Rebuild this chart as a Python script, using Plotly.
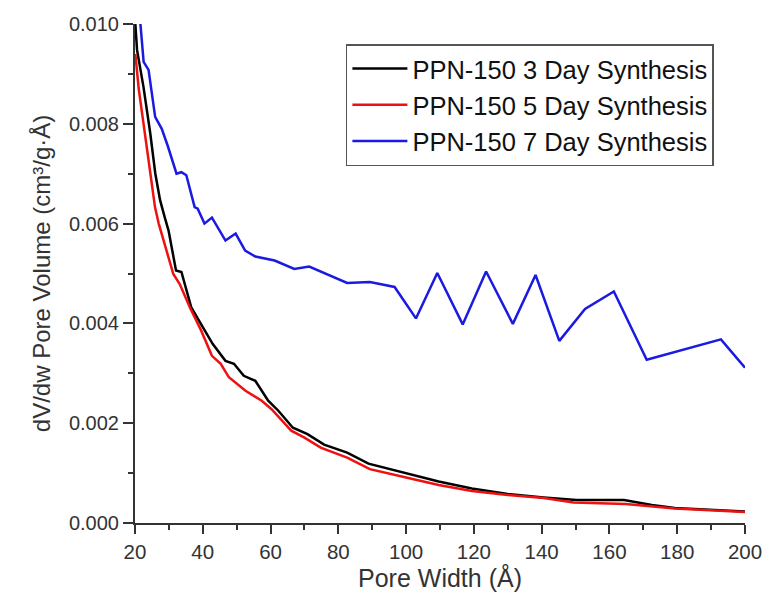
import plotly.graph_objects as go

# Pore width (Å) and dV/dw pore volume (cm³/g·Å)
x_3day = [20.1, 20.6, 22.5, 24.5, 26.0, 27.4, 28.8, 29.9, 32.1, 33.7, 36.6, 40.0, 42.9, 46.7, 49.2,
          52.1, 55.5, 59.3, 62.3, 66.6, 70.9, 75.8, 82.6, 88.9, 99.1, 109.6, 119.4, 130.0,
          140.6, 150.3, 164.3, 172.5, 179.3, 200]
y_3day = [0.0100, 0.00948, 0.00874, 0.00781, 0.00700, 0.00647, 0.00612, 0.00586, 0.00506, 0.00503,
          0.00432, 0.00392, 0.00359, 0.00325, 0.00319, 0.00295, 0.00285, 0.00245, 0.00225,
          0.00191, 0.00178, 0.00157, 0.00141, 0.00119, 0.00101, 0.00083, 0.00069, 0.00058,
          0.00051, 0.00046, 0.00046, 0.00036, 0.00030, 0.00023]

x_5day = [20.1, 21.1, 24.0, 25.9, 27.0, 28.4, 31.3, 33.2, 36.2, 39.5, 42.7, 45.3, 47.7, 52.6, 57.4,
          60.3, 66.1, 70.0, 74.8, 82.6, 89.3, 100.0, 109.6, 119.4, 130.0, 140.6, 149.4, 164.8,
          179.3, 200]
y_5day = [0.00940, 0.00870, 0.00727, 0.00633, 0.00600, 0.00566, 0.00499, 0.00479, 0.00432, 0.00386,
          0.00335, 0.00319, 0.00292, 0.00265, 0.00245, 0.00228, 0.00185, 0.00171, 0.00151,
          0.00131, 0.00108, 0.00091, 0.00076, 0.00064, 0.00056, 0.00050, 0.00041, 0.00038,
          0.00029, 0.00022]

x_7day = [21.6, 22.55, 24.0, 25.95, 27.9, 29.7, 32.25, 33.7, 35.15, 37.6, 38.5, 40.5, 42.7, 46.7,
          49.7, 52.5, 55.5, 61.2, 67.0, 71.4, 82.6, 89.3, 96.6, 102.9, 109.2, 116.7, 123.6,
          131.5, 138.2, 145.2, 152.8, 161.3, 171.0, 192.9, 200]
y_7day = [0.0100, 0.00924, 0.00908, 0.00814, 0.00790, 0.00755, 0.00700, 0.00703, 0.00697,
          0.00633, 0.00630, 0.00600, 0.00612, 0.00566, 0.00580, 0.00546, 0.00534, 0.00526,
          0.00509, 0.00514, 0.00481, 0.00483, 0.00473, 0.00410, 0.00501, 0.00398, 0.00504,
          0.00399, 0.00497, 0.00365, 0.00429, 0.00464, 0.00327, 0.00368, 0.00311]

series_names = ["PPN-150 3 Day Synthesis", "PPN-150 5 Day Synthesis", "PPN-150 7 Day Synthesis"]
series_colors = ["#000000", "#ee1111", "#1a1ae0"]

x_ticks = [20, 40, 60, 80, 100, 120, 140, 160, 180, 200]
y_ticks = [0.000, 0.002, 0.004, 0.006, 0.008, 0.010]

fig = go.Figure()
for i, (xs, ys) in enumerate([(x_3day, y_3day), (x_5day, y_5day), (x_7day, y_7day)]):
    fig.add_trace(go.Scatter(x=xs, y=ys, mode="lines", name=series_names[i],
                             line=dict(color=series_colors[i], width=2.5)))

font_family = "Liberation Sans, Arial, sans-serif"
axis_col = "#333333"
fig.update_layout(
    width=774, height=600,
    margin=dict(l=135, r=20, t=24, b=77),
    paper_bgcolor="white", plot_bgcolor="white",
    font=dict(family=font_family, size=20, color="#333333"),
    showlegend=True,
    legend=dict(x=(349 - 135) / 619, y=(523 - 44) / 499, xanchor="left", yanchor="top",
                bordercolor="#555555", borderwidth=1.5, bgcolor="white",
                font=dict(size=25.5, color="#111111"),
                itemwidth=55),
    xaxis=dict(range=[20, 200], tickvals=x_ticks, showgrid=False, zeroline=False,
               showline=True, linecolor=axis_col, linewidth=2,
               ticks="outside", ticklen=9, tickwidth=2, tickcolor=axis_col,
               minor=dict(dtick=10, ticks="outside", ticklen=5, tickwidth=2, tickcolor=axis_col),
               tickfont=dict(size=20.5),
               title=dict(text="Pore Width (Å)", font=dict(size=25), standoff=7)),
    yaxis=dict(range=[0, 0.010], tickvals=y_ticks, tickformat=".3f", showgrid=False, zeroline=False,
               showline=True, linecolor=axis_col, linewidth=2,
               ticks="outside", ticklen=10, tickwidth=2, tickcolor=axis_col,
               minor=dict(dtick=0.001, ticks="outside", ticklen=5, tickwidth=2, tickcolor=axis_col),
               tickfont=dict(size=20),
               title=dict(text="dV/dw Pore Volume (cm³/g·Å)", font=dict(size=24), standoff=12)),
)

fig.write_html("out.html")
